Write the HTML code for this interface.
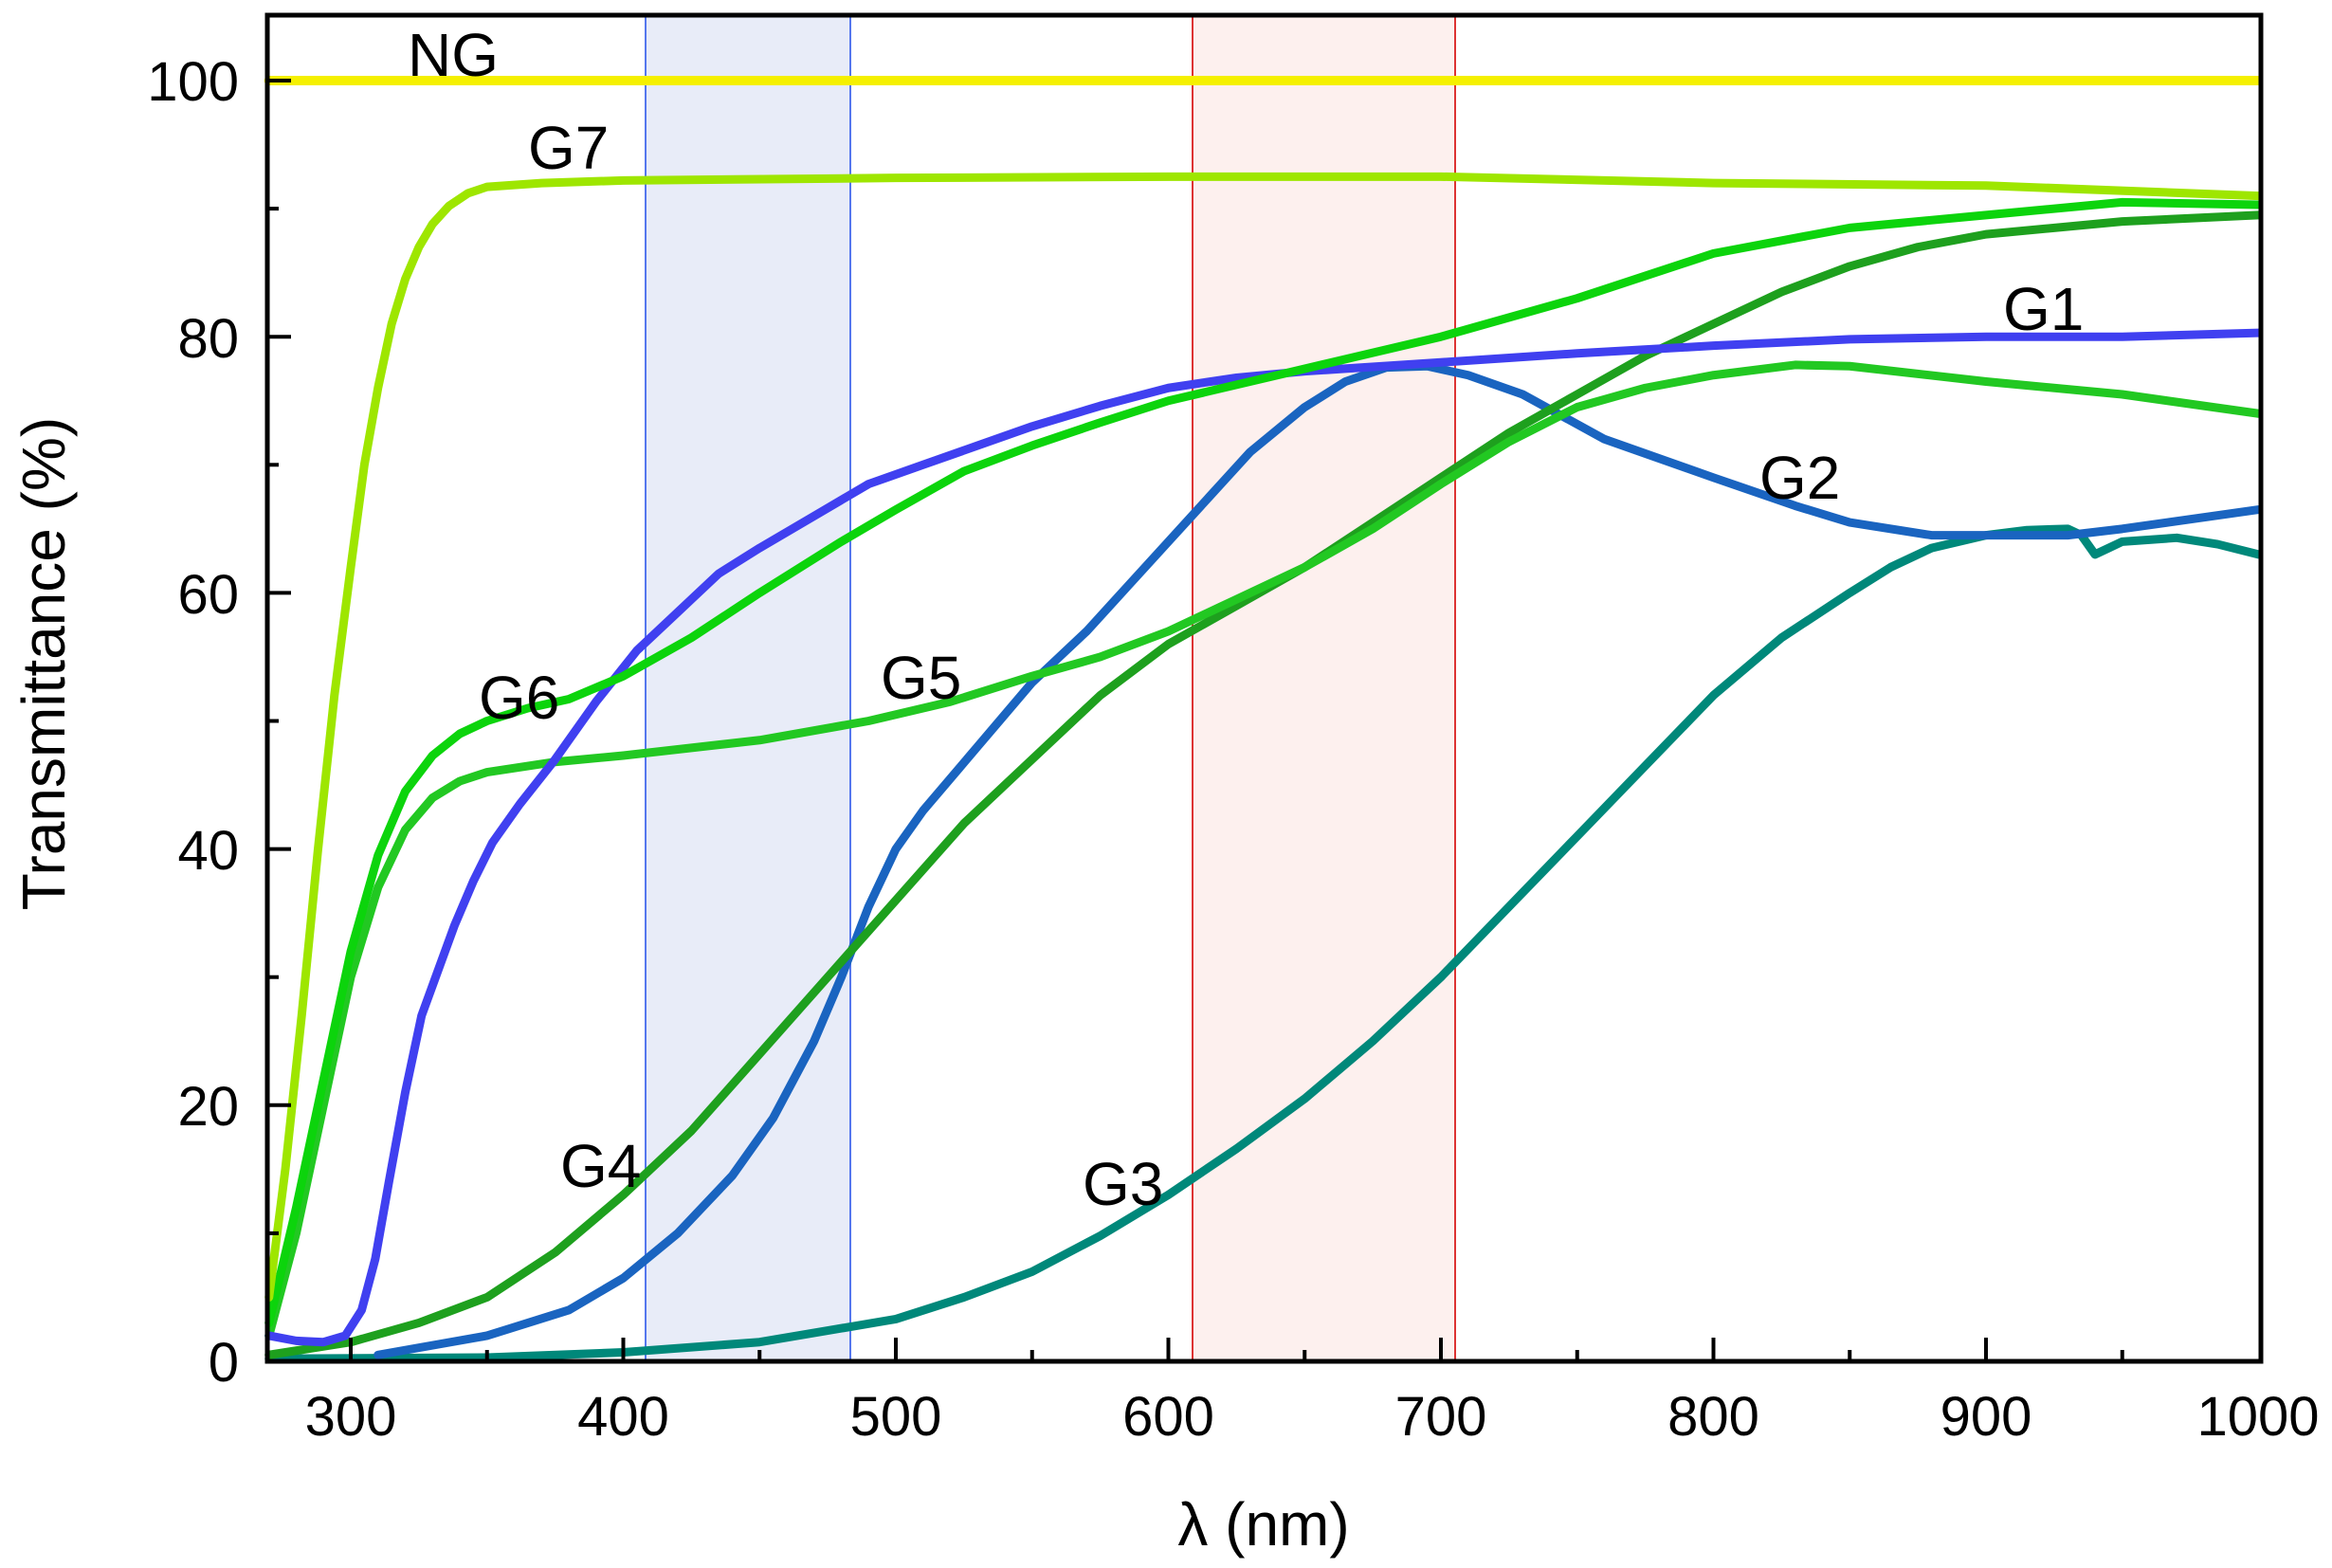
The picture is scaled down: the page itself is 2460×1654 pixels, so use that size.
<!DOCTYPE html>
<html><head><meta charset="utf-8"><style>
html,body{margin:0;padding:0;background:#fff;}
svg{display:block;font-family:"Liberation Sans",Arial,sans-serif;}
.c{fill:none;stroke-width:9;stroke-linejoin:round;stroke-linecap:round;vector-effect:non-scaling-stroke;}
</style></head><body>
<svg width="2460" height="1654" viewBox="0 0 2460 1654" xmlns="http://www.w3.org/2000/svg">
<rect x="0" y="0" width="2460" height="1654" fill="#fff"/>
<rect x="681" y="16" width="216" height="1420" fill="#e8ecf8" stroke="#5577ee" stroke-width="2"/>
<rect x="1258" y="16" width="277" height="1420" fill="#fdf0ee" stroke="#dd3333" stroke-width="2"/>
<g transform="matrix(2.875 0 0 -13.51 -492.5 1436)">
<polyline class="c" stroke="#f5f000" style="stroke-width:10" points="270,100 1000,100"/>
<polyline class="c" stroke="#00887a" points="270,0.2 350,0.3 400,0.7 450,1.5 500,3.3 525,5 550,7 575,9.8 600,13 625,16.6 650,20.5 675,25 700,30 725,35.5 750,41 775,46.5 800,52 825,56.5 850,60 865,62 880,63.5 900,64.5 915,64.9 930,65 935,64.5 940,63 945,63.5 950,64 970,64.3 985,63.8 1000,63"/>
<polyline class="c" stroke="#1a64c0" points="310,0.5 350,2 380,4 400,6.5 420,10 440,14.5 455,19 470,25 480,30 490,35.5 500,40 510,43 530,48 550,53 570,57 585,60.5 600,64 615,67.5 630,71 650,74.5 665,76.5 680,77.6 695,77.7 710,77 730,75.5 760,72 800,69 830,66.8 850,65.5 880,64.5 900,64.5 930,64.5 950,65 1000,66.5"/>
<polyline class="c" stroke="#1ea01e" points="270,0.5 300,1.5 325,3 350,5 375,8.5 400,13 425,18 450,24 475,30 500,36 525,42 550,47 575,52 600,56 625,59 650,62 675,65.5 700,69 725,72.5 750,75.5 775,78.5 800,81 825,83.5 850,85.5 875,87 900,88 950,89 1000,89.5"/>
<polyline class="c" stroke="#22c822" points="270,2 280,10 290,20 300,30 310,37 320,41.5 330,44 340,45.3 350,46 375,46.8 400,47.3 450,48.5 490,50 520,51.5 550,53.5 575,55 600,57 625,59.5 650,62 675,65 700,68.5 725,71.8 750,74.5 775,76 800,77 830,77.8 850,77.7 900,76.5 950,75.5 1000,74"/>
<polyline class="c" stroke="#4040f0" points="270,2 280,1.6 290,1.5 298,2 304,4 309,8 314,14 320,21 326,27 332,30.5 338,34 345,37.5 352,40.5 362,43.5 375,47 390,51.5 405,55.5 420,58.5 435,61.5 450,63.5 470,66 490,68.5 510,70 530,71.5 550,73 575,74.6 600,76 625,76.8 650,77.3 700,78 750,78.7 800,79.3 850,79.8 900,80 950,80 1000,80.3"/>
<polyline class="c" stroke="#0cd40c" points="270,3 280,12 290,22 300,32 310,39.5 320,44.5 330,47.3 340,49 350,50 365,51 380,51.7 400,53.5 425,56.5 450,60 480,64 500,66.5 525,69.5 550,71.5 575,73.3 600,75 650,77.5 700,80 750,83 800,86.5 850,88.5 900,89.5 950,90.5 1000,90.3"/>
<polyline class="c" stroke="#9ee600" points="270,5 276,15 282,27 288,40 294,52 300,62 305,70 310,76 315,81 320,84.5 325,87 330,88.8 336,90.2 343,91.2 350,91.7 370,92 400,92.2 500,92.4 600,92.5 700,92.5 800,92 900,91.8 1000,91"/>
</g>
<rect x="282" y="16" width="2103" height="1420" fill="none" stroke="#000" stroke-width="5"/>
<g stroke="#000" stroke-width="4">
<line x1="370" y1="1436" x2="370" y2="1411"/><line x1="657.5" y1="1436" x2="657.5" y2="1411"/><line x1="945" y1="1436" x2="945" y2="1411"/><line x1="1232.5" y1="1436" x2="1232.5" y2="1411"/><line x1="1520" y1="1436" x2="1520" y2="1411"/><line x1="1807.5" y1="1436" x2="1807.5" y2="1411"/><line x1="2095" y1="1436" x2="2095" y2="1411"/>
<line x1="513.75" y1="1436" x2="513.75" y2="1424"/><line x1="801.25" y1="1436" x2="801.25" y2="1424"/><line x1="1088.75" y1="1436" x2="1088.75" y2="1424"/><line x1="1376.25" y1="1436" x2="1376.25" y2="1424"/><line x1="1663.75" y1="1436" x2="1663.75" y2="1424"/><line x1="1951.25" y1="1436" x2="1951.25" y2="1424"/><line x1="2238.75" y1="1436" x2="2238.75" y2="1424"/>
<line x1="282" y1="1165.8" x2="307" y2="1165.8"/><line x1="282" y1="895.6" x2="307" y2="895.6"/><line x1="282" y1="625.4" x2="307" y2="625.4"/><line x1="282" y1="355.2" x2="307" y2="355.2"/><line x1="282" y1="85" x2="307" y2="85"/>
<line x1="282" y1="1300.9" x2="294" y2="1300.9"/><line x1="282" y1="1030.7" x2="294" y2="1030.7"/><line x1="282" y1="760.5" x2="294" y2="760.5"/><line x1="282" y1="490.3" x2="294" y2="490.3"/><line x1="282" y1="220.1" x2="294" y2="220.1"/>
</g>
<g font-size="58" fill="#000" text-anchor="end">
<text x="252" y="1457">0</text><text x="252" y="1187">20</text><text x="252" y="917">40</text><text x="252" y="647">60</text><text x="252" y="377">80</text><text x="252" y="106">100</text>
</g>
<g font-size="58" fill="#000" text-anchor="middle">
<text x="370" y="1514">300</text><text x="657.5" y="1514">400</text><text x="945" y="1514">500</text><text x="1232.5" y="1514">600</text><text x="1520" y="1514">700</text><text x="1807.5" y="1514">800</text><text x="2095" y="1514">900</text><text x="2382" y="1514">1000</text>
</g>
<text x="1333" y="1630" font-size="64" text-anchor="middle">λ (nm)</text>
<text transform="translate(68,700) rotate(-90)" font-size="64" text-anchor="middle">Transmittance (%)</text>
<g font-size="64" fill="#000">
<text x="430" y="80">NG</text>
<text x="557" y="178">G7</text>
<text x="505" y="758">G6</text>
<text x="929" y="737">G5</text>
<text x="591" y="1252">G4</text>
<text x="1142" y="1271">G3</text>
<text x="1856" y="526">G2</text>
<text x="2113" y="348">G1</text>
</g>
</svg>
</body></html>
